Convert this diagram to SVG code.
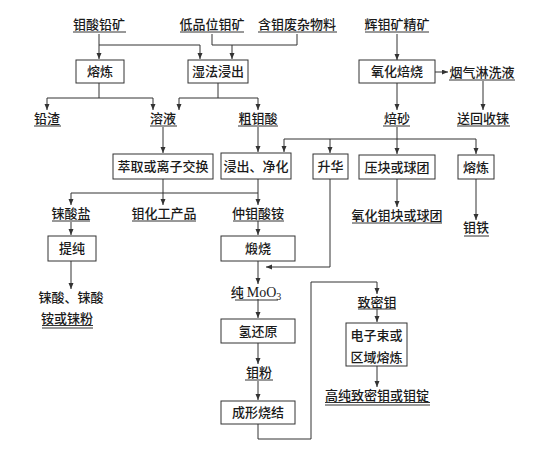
<svg xmlns="http://www.w3.org/2000/svg" width="544" height="455" viewBox="0 0 544 455">
<defs>
<style>
.t{font-family:"Noto Sans CJK SC","Noto Sans CJK JP",sans-serif;font-size:13px;font-weight:500;fill:#1a1a1a;text-anchor:middle}
.b{fill:#fff;stroke:#333;stroke-width:1}
.u{stroke:#333;stroke-width:1;fill:none}
.c{stroke:#333;stroke-width:1;fill:none}
.a{marker-end:url(#ar)}
.m{font-family:"Liberation Serif",serif;font-weight:normal}
</style>
<marker id="ar" markerUnits="userSpaceOnUse" markerWidth="6" markerHeight="6" refX="6" refY="2.5" orient="auto">
<path d="M0,0 L6,2.5 L0,5 z" fill="#333"/>
</marker>
</defs>
<rect width="544" height="455" fill="#fff"/>

<g id="connectors">
<path class="c a" d="M99,34 V59"/>
<path class="c a" d="M99,45 H200 V59"/>
<path class="c" d="M212,34 V45 H297 V34"/>
<path class="c a" d="M232,45 V59"/>
<path class="c a" d="M397,34 V60"/>
<path class="c a" d="M435,72 H448"/>
<path class="c a" d="M483,81 V110"/>
<path class="c a" d="M397,83 V110"/>
<path class="c" d="M99,83 V98"/>
<path class="c a" d="M99,98 H47 V110"/>
<path class="c a" d="M99,98 H153 V110"/>
<path class="c" d="M218,83 V98"/>
<path class="c a" d="M218,98 H179 V110"/>
<path class="c a" d="M218,98 H258 V110"/>
<path class="c a" d="M163,127 V153"/>
<path class="c a" d="M258,127 V152"/>
<path class="c a" d="M397,127 V154"/>
<path class="c a" d="M397,139 H284 V152"/>
<path class="c a" d="M397,139 H476 V154"/>
<path class="c a" d="M330,139 V153"/>
<path class="c a" d="M163,179 V205"/>
<path class="c a" d="M163,193 H71 V205"/>
<path class="c" d="M163,193 H258"/>
<path class="c a" d="M258,179 V205"/>
<path class="c a" d="M397,179 V207"/>
<path class="c a" d="M476,179 V220"/>
<path class="c a" d="M71,222 V235"/>
<path class="c a" d="M71,261 V289"/>
<path class="c a" d="M258,221 V235"/>
<path class="c a" d="M330,179 V267 H266"/>
<path class="c a" d="M258,261 V284"/>
<path class="c a" d="M258,299 V318"/>
<path class="c a" d="M258,343 V364"/>
<path class="c a" d="M258,381 V400"/>
<path class="c a" d="M258,424 V439 H311 V282 H377 V294"/>
<path class="c a" d="M377,309 V322"/>
<path class="c a" d="M377,366 V387"/>
</g>

<g id="n-molybdate-lead-ore"><text class="t" x="99" y="29">钼酸铅矿</text><path class="u" d="M73,32 H126"/></g>
<g id="n-low-grade-ore"><text class="t" x="212" y="29">低品位钼矿</text><path class="u" d="M180,32 H244"/></g>
<g id="n-scrap"><text class="t" x="297" y="29">含钼废杂物料</text><path class="u" d="M258,32 H337"/></g>
<g id="n-concentrate"><text class="t" x="397" y="29">辉钼矿精矿</text><path class="u" d="M365,32 H429"/></g>

<g id="n-smelt1"><rect class="b" x="76" y="60" width="48" height="23"/><text class="t" x="100" y="76">熔炼</text></g>
<g id="n-wet-leach"><rect class="b" x="188" y="60" width="60" height="23"/><text class="t" x="218" y="76">湿法浸出</text></g>
<g id="n-roast"><rect class="b" x="359" y="60" width="76" height="23"/><text class="t" x="397" y="76">氧化焙烧</text></g>
<g id="n-flue-wash"><text class="t" x="482" y="77">烟气淋洗液</text><path class="u" d="M449,80 H515"/></g>

<g id="n-lead-slag"><text class="t" x="47" y="123">铅渣</text><path class="u" d="M34,126 H61"/></g>
<g id="n-solution"><text class="t" x="163" y="123">溶液</text><path class="u" d="M150,126 H177"/></g>
<g id="n-crude-acid"><text class="t" x="258" y="123">粗钼酸</text><path class="u" d="M238,126 H278"/></g>
<g id="n-calcine"><text class="t" x="397" y="123">焙砂</text><path class="u" d="M383,126 H410"/></g>
<g id="n-rhenium-recovery"><text class="t" x="483" y="123">送回收铼</text><path class="u" d="M457,126 H510"/></g>

<g id="n-extraction"><rect class="b" x="113" y="154" width="100" height="25"/><text class="t" x="163" y="171">萃取或离子交换</text></g>
<g id="n-leach-purify"><rect class="b" x="221" y="153" width="70" height="26"/><text class="t" x="256" y="171">浸出、净化</text></g>
<g id="n-sublimation"><rect class="b" x="313" y="154" width="35" height="25"/><text class="t" x="330.5" y="171">升华</text></g>
<g id="n-briquette"><rect class="b" x="359" y="155" width="76" height="24"/><text class="t" x="397" y="172">压块或球团</text></g>
<g id="n-smelt2"><rect class="b" x="458" y="155" width="36" height="24"/><text class="t" x="476" y="172">熔炼</text></g>

<g id="n-perrhenate"><text class="t" x="71" y="218">铼酸盐</text><path class="u" d="M52,221 H90"/></g>
<g id="n-mo-chemicals"><text class="t" x="164" y="218">钼化工产品</text><path class="u" d="M132,221 H196"/></g>
<g id="n-apm"><text class="t" x="258" y="218">仲钼酸铵</text><path class="u" d="M233,221 H284"/></g>
<g id="n-moo-briquette"><text class="t" x="397" y="220">氧化钼块或球团</text><path class="u" d="M352,223 H442"/></g>
<g id="n-ferromo"><text class="t" x="476" y="232">钼铁</text><path class="u" d="M464,236 H489"/></g>

<g id="n-purify"><rect class="b" x="48" y="236" width="48" height="25"/><text class="t" x="72" y="253">提纯</text></g>
<g id="n-calcine2"><rect class="b" x="221" y="236" width="74" height="25"/><text class="t" x="258" y="253">煅烧</text></g>

<g id="n-re-products"><text class="t" x="71" y="302">铼酸、铼酸</text><text class="t" x="67" y="323">铵或铼粉</text><path class="u" d="M42,325.5 H93 M42,328 H93"/></g>

<g id="n-pure-moo3"><text class="t" x="256" y="297">纯 <tspan class="m" font-size="14">MoO</tspan><tspan class="m" font-size="10" dy="3">3</tspan></text><path class="u" d="M235,300 H278"/></g>
<g id="n-h2-reduce"><rect class="b" x="221" y="319" width="74" height="24"/><text class="t" x="258" y="335.5">氢还原</text></g>
<g id="n-mo-powder"><text class="t" x="259" y="377">钼粉</text><path class="u" d="M245,380 H273"/></g>
<g id="n-sinter"><rect class="b" x="221" y="401" width="74" height="23"/><text class="t" x="258" y="417">成形烧结</text></g>

<g id="n-dense-mo"><text class="t" x="377" y="307">致密钼</text><path class="u" d="M358,309 H396"/></g>
<g id="n-ebeam"><rect class="b" x="346" y="323" width="61" height="43"/><text class="t" x="376.5" y="339.5">电子束或</text><text class="t" x="376.5" y="361.5">区域熔炼</text></g>
<g id="n-hp-mo"><text class="t" x="377" y="400">高纯致密钼或钼锭</text><path class="u" d="M325,402.5 H430 M325,405 H430"/></g>
</svg>
